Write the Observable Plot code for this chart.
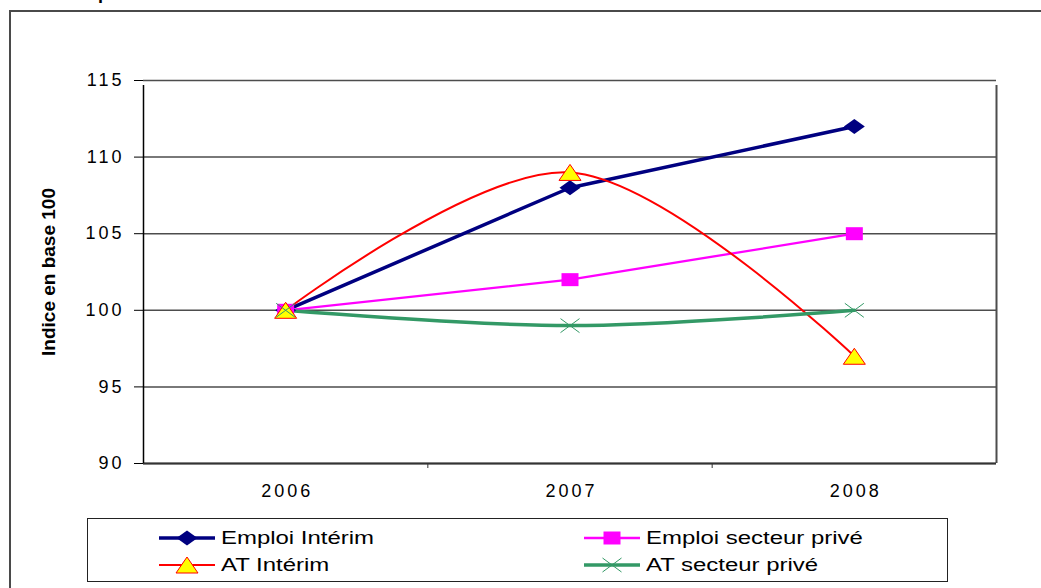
<!DOCTYPE html>
<html><head><meta charset="utf-8">
<script src="https://cdn.jsdelivr.net/npm/d3@7"></script>
<script src="https://cdn.jsdelivr.net/npm/@observablehq/plot@0.6"></script>
<style>
body{margin:0;background:#fff;width:1041px;height:588px;overflow:hidden;position:relative;font-family:"Liberation Sans",Arial,sans-serif}
#frame{position:absolute;left:9px;top:10px;width:1100px;height:700px;border:2px solid #4a4a4a;}
#chart{position:absolute;left:0;top:0}
#chart g[aria-label$="tick label"] text{letter-spacing:3px}
#legend{position:absolute;left:87px;top:518px;width:861px;height:64px;border:1.5px solid #222;box-sizing:border-box}
.item{position:absolute;height:20px;display:flex;align-items:center}
.item svg{display:block}
.item span{font-size:18px;display:inline-block;transform:scaleX(1.33);transform-origin:left center;margin-left:6px;color:#000;white-space:nowrap}
#top{position:absolute;left:98px;top:-16px;font-size:18px;line-height:18px;font-weight:bold;color:#000}
</style></head><body>
<div id="top">p</div>
<div id="frame"></div>
<div id="chart"></div>
<div id="legend"></div>
<script>
// ---- data ----
const years = [2006, 2007, 2008];
const emploiInterim = [100, 108, 112];
const emploiPrive = [100, 102, 105];
const atInterim = [100, 109, 97];
const atPrive = [100, 99, 100];
const yTicks = [90, 95, 100, 105, 110, 115];
const seriesNames = ["Emploi Intérim", "Emploi secteur privé", "AT Intérim", "AT secteur privé"];
const yLabel = "Indice en base 100";

const pts = vals => years.map((year, i) => ({year, value: vals[i]}));

// custom (horizontally stretched) marker shapes
const diamondSym = {draw(c){c.moveTo(-10.5,0);c.lineTo(0,-7.5);c.lineTo(10.5,0);c.lineTo(0,7.5);c.closePath();}};
const squareSym = {draw(c){c.moveTo(-8.5,-6.5);c.lineTo(8.5,-6.5);c.lineTo(8.5,6.5);c.lineTo(-8.5,6.5);c.closePath();}};
const triSym = {draw(c){c.moveTo(0,-8);c.lineTo(11,8);c.lineTo(-11,8);c.closePath();}};
const timesSym = {draw(c){c.moveTo(-9.5,-7);c.lineTo(9.5,7);c.moveTo(-9.5,7);c.lineTo(9.5,-7);}};

const styles = [
  {vals: emploiInterim, stroke:"#000080", sw:3.5, curve:"linear", sym:diamondSym, fill:"#000080", mstroke:"none", msw:0},
  {vals: emploiPrive, stroke:"#FF00FF", sw:2.3, curve:"linear", sym:squareSym, fill:"#FF00FF", mstroke:"none", msw:0},
  {vals: atInterim, stroke:"#FF0000", sw:2, curve:"catmull-rom", sym:triSym, fill:"#FFFF00", mstroke:"#FF0000", msw:1},
  {vals: atPrive, stroke:"#339966", sw:3.5, curve:"catmull-rom", sym:timesSym, fill:"none", mstroke:"#339966", msw:1}
];

const marks = [
  Plot.gridY(yTicks, {stroke:"#4d4d4d", strokeOpacity:1, strokeWidth:1.5}),
  Plot.ruleX([2008.5], {y1:90, y2:115, stroke:"#4d4d4d", strokeWidth:2, insetBottom:-5}),
  Plot.ruleY([90], {stroke:"#333", strokeWidth:2}),
  Plot.ruleX([2005.5], {y1:90, y2:115, stroke:"#000", strokeWidth:1.5, insetBottom:-5}),
  Plot.axisY(yTicks, {tickSize:9, tickPadding:10, fontSize:18, label:null, stroke:"#000"}),
  Plot.axisX([2006.5, 2007.5], {tickSize:5, tickFormat:()=>"", label:null, stroke:"#333"}),
  Plot.axisX(years, {tickSize:0, tickPadding:21, tickFormat:"d", fontSize:18, label:null, dx:1.5}),
  Plot.text([yLabel], {frameAnchor:"left", textAnchor:"middle", dx:-95, rotate:-90, fontWeight:"bold", fontSize:19, fontFamily:"Liberation Sans Narrow, Arial Narrow, Liberation Sans, sans-serif", fill:"#000"})
];
for (const s of styles) {
  marks.push(Plot.line(pts(s.vals), {x:"year", y:"value", stroke:s.stroke, strokeWidth:s.sw, curve:s.curve}));
}
for (const s of styles) {
  marks.push(Plot.dot(pts(s.vals), {x:"year", y:"value", symbol:s.sym, r:8, fill:s.fill, stroke:s.mstroke, strokeWidth:s.msw}));
}

const chart = Plot.plot({
  width:1041, height:500,
  marginLeft:143, marginRight:45, marginTop:80, marginBottom:37,
  style:{fontFamily:"Liberation Sans, Arial, sans-serif", fontSize:"18px", color:"#000", background:"transparent", overflow:"visible"},
  x:{type:"linear", domain:[2005.5, 2008.5]},
  y:{domain:[90, 115]},
  marks
});
document.getElementById("chart").appendChild(chart);

// ---- legend ----
const legend = document.getElementById("legend");
const pos = [[71,9],[496,9],[71,36],[496,36]];
const symPaths = [
  "M-10.5,0L0,-7.5L10.5,0L0,7.5Z",
  "M-8.5,-6.5L8.5,-6.5L8.5,6.5L-8.5,6.5Z",
  "M0,-8L11,8L-11,8Z",
  "M-9.5,-7L9.5,7M-9.5,7L9.5,-7"
];
styles.forEach((s, i) => {
  const item = document.createElement("div");
  item.className = "item";
  item.style.left = pos[i][0] + "px";
  item.style.top = pos[i][1] + "px";
  const svg = d3.create("svg").attr("width", 56).attr("height", 20).style("overflow","visible");
  svg.append("line").attr("x1",0).attr("x2",56).attr("y1",10).attr("y2",10).attr("stroke", s.stroke).attr("stroke-width", s.sw);
  svg.append("path").attr("d", symPaths[i]).attr("transform","translate(28,10)")
    .attr("fill", s.fill).attr("stroke", s.mstroke).attr("stroke-width", s.msw || null);
  item.appendChild(svg.node());
  const span = document.createElement("span");
  span.textContent = seriesNames[i];
  item.appendChild(span);
  legend.appendChild(item);
});
</script>
</body></html>
